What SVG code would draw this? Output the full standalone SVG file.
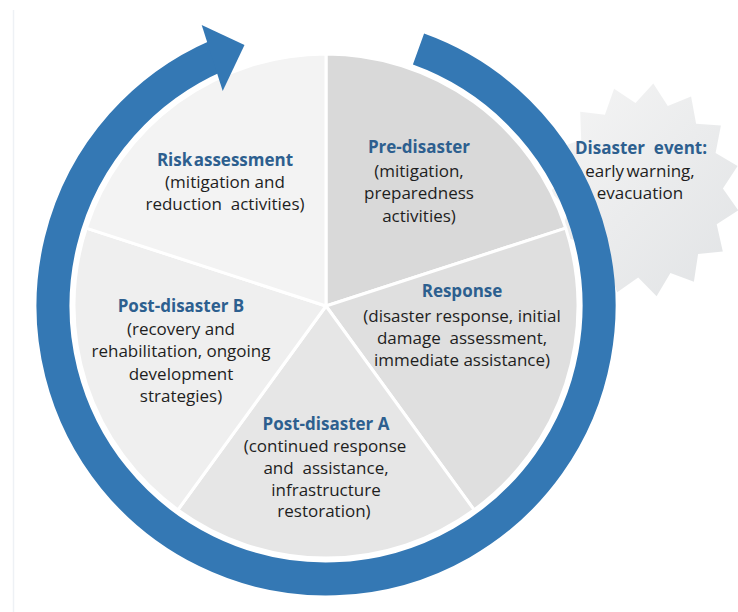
<svg xmlns="http://www.w3.org/2000/svg" width="738" height="612" viewBox="0 0 738 612">
  <style>
    .slice { stroke: #ffffff; stroke-width: 3; stroke-linejoin: round; }
    .title { font-family: "Open Sans", "Liberation Sans", sans-serif; font-size: 17px; font-weight: bold; fill: #2d5f8f; text-anchor: middle; }
    .body { font-family: "Open Sans", "Liberation Sans", sans-serif; font-size: 17px; fill: #1e1e1e; text-anchor: middle; }
  </style>
  <defs>
    <linearGradient id="burstFill" x1="0" y1="0" x2="1" y2="1">
      <stop offset="0" stop-color="#f5f5f5"/>
      <stop offset="1" stop-color="#e1e3e5"/>
    </linearGradient>
  </defs>

  <rect x="0" y="0" width="738" height="612" fill="#ffffff"/>
  <line x1="13.5" y1="10" x2="13.5" y2="612" stroke="#eef1f5" stroke-width="1.5"/>

  <!-- starburst behind the cycle -->
  <g id="disaster-event">
    <polygon fill="url(#burstFill)" points="653.3,83.4 667.8,106.1 691.1,96.4 696.1,123.8 720.9,125.6 715.6,152.9 737.6,165.9 722.9,188.5 738.3,210.4 716.7,224.3 722.8,251.4 698.1,254.1 693.9,281.7 670.4,272.9 656.6,296.2 638.2,277.4 617.2,292.3 607.2,266.7 582.7,270.8 582.8,242.8 558.9,235.2 569.1,209.7 550.0,191.9 568.5,173.3 557.6,148.2 581.2,139.7 580.2,111.7 604.9,114.8 614.1,88.8 635.5,102.9"/>
  </g>

  <!-- five phase slices -->
  <g id="pre-disaster">
    <path class="slice" fill="#d9d9d9" d="M326,306 L326,54 A252,252 0 0 1 565.7,228.1 Z"/>
  </g>
  <g id="response">
    <path class="slice" fill="#dfdfdf" d="M326,306 L565.7,228.1 A252,252 0 0 1 474.1,509.9 Z"/>
  </g>
  <g id="post-disaster-a">
    <path class="slice" fill="#e6e6e6" d="M326,306 L474.1,509.9 A252,252 0 0 1 177.9,509.9 Z"/>
  </g>
  <g id="post-disaster-b">
    <path class="slice" fill="#efefef" d="M326,306 L177.9,509.9 A252,252 0 0 1 86.3,228.1 Z"/>
  </g>
  <g id="risk-assessment">
    <path class="slice" fill="#f3f3f3" d="M326,306 L86.3,228.1 A252,252 0 0 1 326,54 Z"/>
  </g>

  <!-- cycle arrow around the pie -->
  <g id="connectors">
    <path d="M418.5,49.1 A273,273 0 1 1 217.2,55.6" fill="none" stroke="#3478b4" stroke-width="33"/>
    <polygon fill="#3478b4" points="201.7,25 244.5,45 222.7,91"/>
  </g>

  <!-- labels -->
  <g id="risk-assessment-label">
    <text class="title" x="225" y="166" word-spacing="-3">Risk assessment</text>
    <text class="body" x="225" y="188">(mitigation and</text>
    <text class="body" x="225" y="210" xml:space="preserve">reduction  activities)</text>
  </g>
  <g id="pre-disaster-label">
    <text class="title" x="419" y="153">Pre-disaster</text>
    <text class="body" x="419" y="177">(mitigation,</text>
    <text class="body" x="419" y="199">preparedness</text>
    <text class="body" x="419" y="222">activities)</text>
  </g>
  <g id="disaster-event-label">
    <text class="title" x="641" y="154" xml:space="preserve">Disaster  event:</text>
    <text class="body" x="640" y="176.5" word-spacing="-2">early warning,</text>
    <text class="body" x="640" y="199">evacuation</text>
  </g>
  <g id="response-label">
    <text class="title" x="462" y="297">Response</text>
    <text class="body" x="462" y="321.5">(disaster response, initial</text>
    <text class="body" x="462" y="343.5" xml:space="preserve">damage  assessment,</text>
    <text class="body" x="462" y="365.5">immediate assistance)</text>
  </g>
  <g id="post-disaster-a-label">
    <text class="title" x="326" y="430">Post-disaster A</text>
    <text class="body" x="325" y="452">(continued response</text>
    <text class="body" x="326" y="474" xml:space="preserve">and  assistance,</text>
    <text class="body" x="326" y="496">infrastructure</text>
    <text class="body" x="324" y="517">restoration)</text>
  </g>
  <g id="post-disaster-b-label">
    <text class="title" x="181" y="312">Post-disaster B</text>
    <text class="body" x="181" y="335">(recovery and</text>
    <text class="body" x="181" y="357">rehabilitation, ongoing</text>
    <text class="body" x="181" y="379.5">development</text>
    <text class="body" x="181" y="402">strategies)</text>
  </g>
</svg>
